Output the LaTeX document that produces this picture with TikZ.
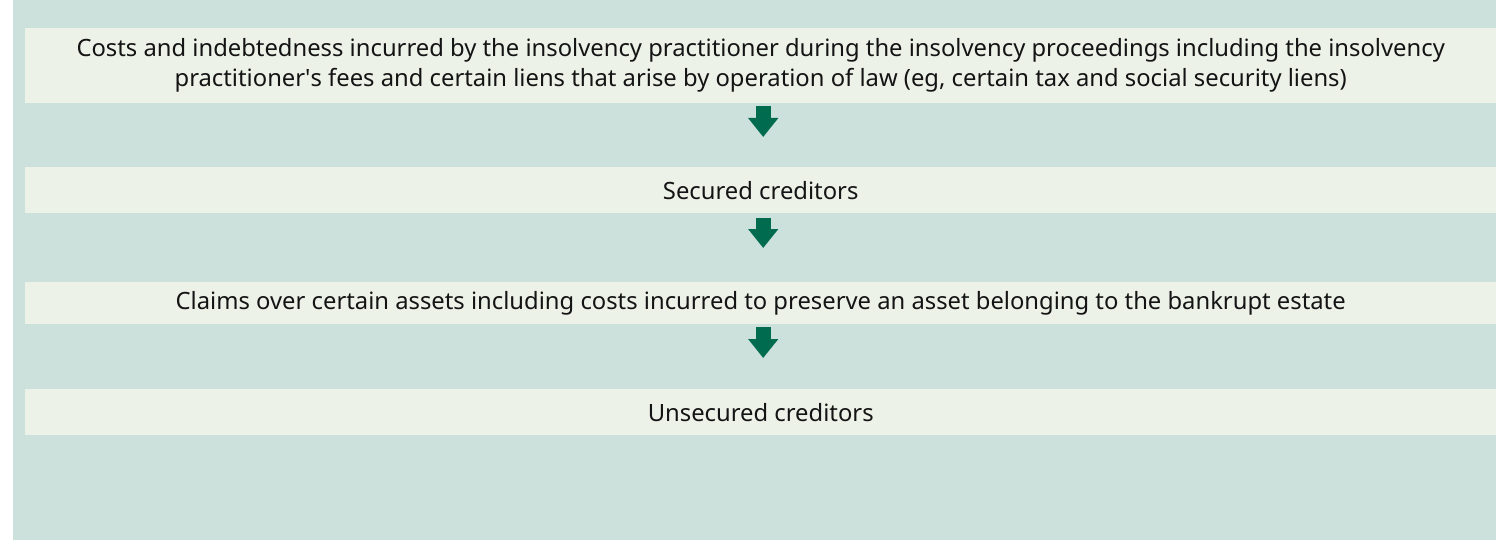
\documentclass[tikz,border=0pt]{standalone}
\usepackage{fontspec}
\setmainfont{Noto Sans}
\usetikzlibrary{arrows.meta}
\definecolor{bgteal}{HTML}{CCE1DC}
\definecolor{bandc}{HTML}{EDF2E9}
\definecolor{arrowc}{HTML}{006B4F}
\definecolor{txtc}{HTML}{141414}
\tikzset{
  band/.style={fill=bandc, draw=none, minimum width=1471pt, inner sep=0pt, text=txtc, align=center,
    font=\fontsize{23.8pt}{30pt}\selectfont, anchor=north west},
  bigarrow/.style={draw=arrowc, line width=15pt, -{Triangle[width=29pt,length=19pt]}},
}
\begin{document}
\begin{tikzpicture}[x=1pt,y=-1pt]
\useasboundingbox (0,0) rectangle (1496,540);
\fill[white] (0,0) rectangle (1496,540);
\fill[bgteal] (13,0) rectangle (1496,540);
\node[band, minimum height=75pt] (b1) at (25,28) {Costs and indebtedness incurred by the insolvency practitioner during the insolvency proceedings including the insolvency\\practitioner\textquotesingle s fees and certain liens that arise by operation of law (eg, certain tax and social security liens)};
\node[band, minimum height=46pt] (b2) at (25,167) {Secured creditors};
\node[band, minimum height=42pt] (b3) at (25,282) {Claims over certain assets including costs incurred to preserve an asset belonging to the bankrupt estate};
\node[band, minimum height=46pt] (b4) at (25,389) {Unsecured creditors};
\draw[bigarrow, shorten <=3pt, shorten >=30pt] ([xshift=2.5pt]b1.south) -- ([xshift=2.5pt]b2.north);
\draw[bigarrow, shorten <=5pt, shorten >=34pt] ([xshift=2.5pt]b2.south) -- ([xshift=2.5pt]b3.north);
\draw[bigarrow, shorten <=3pt, shorten >=31pt] ([xshift=2.5pt]b3.south) -- ([xshift=2.5pt]b4.north);
\end{tikzpicture}
\end{document}
